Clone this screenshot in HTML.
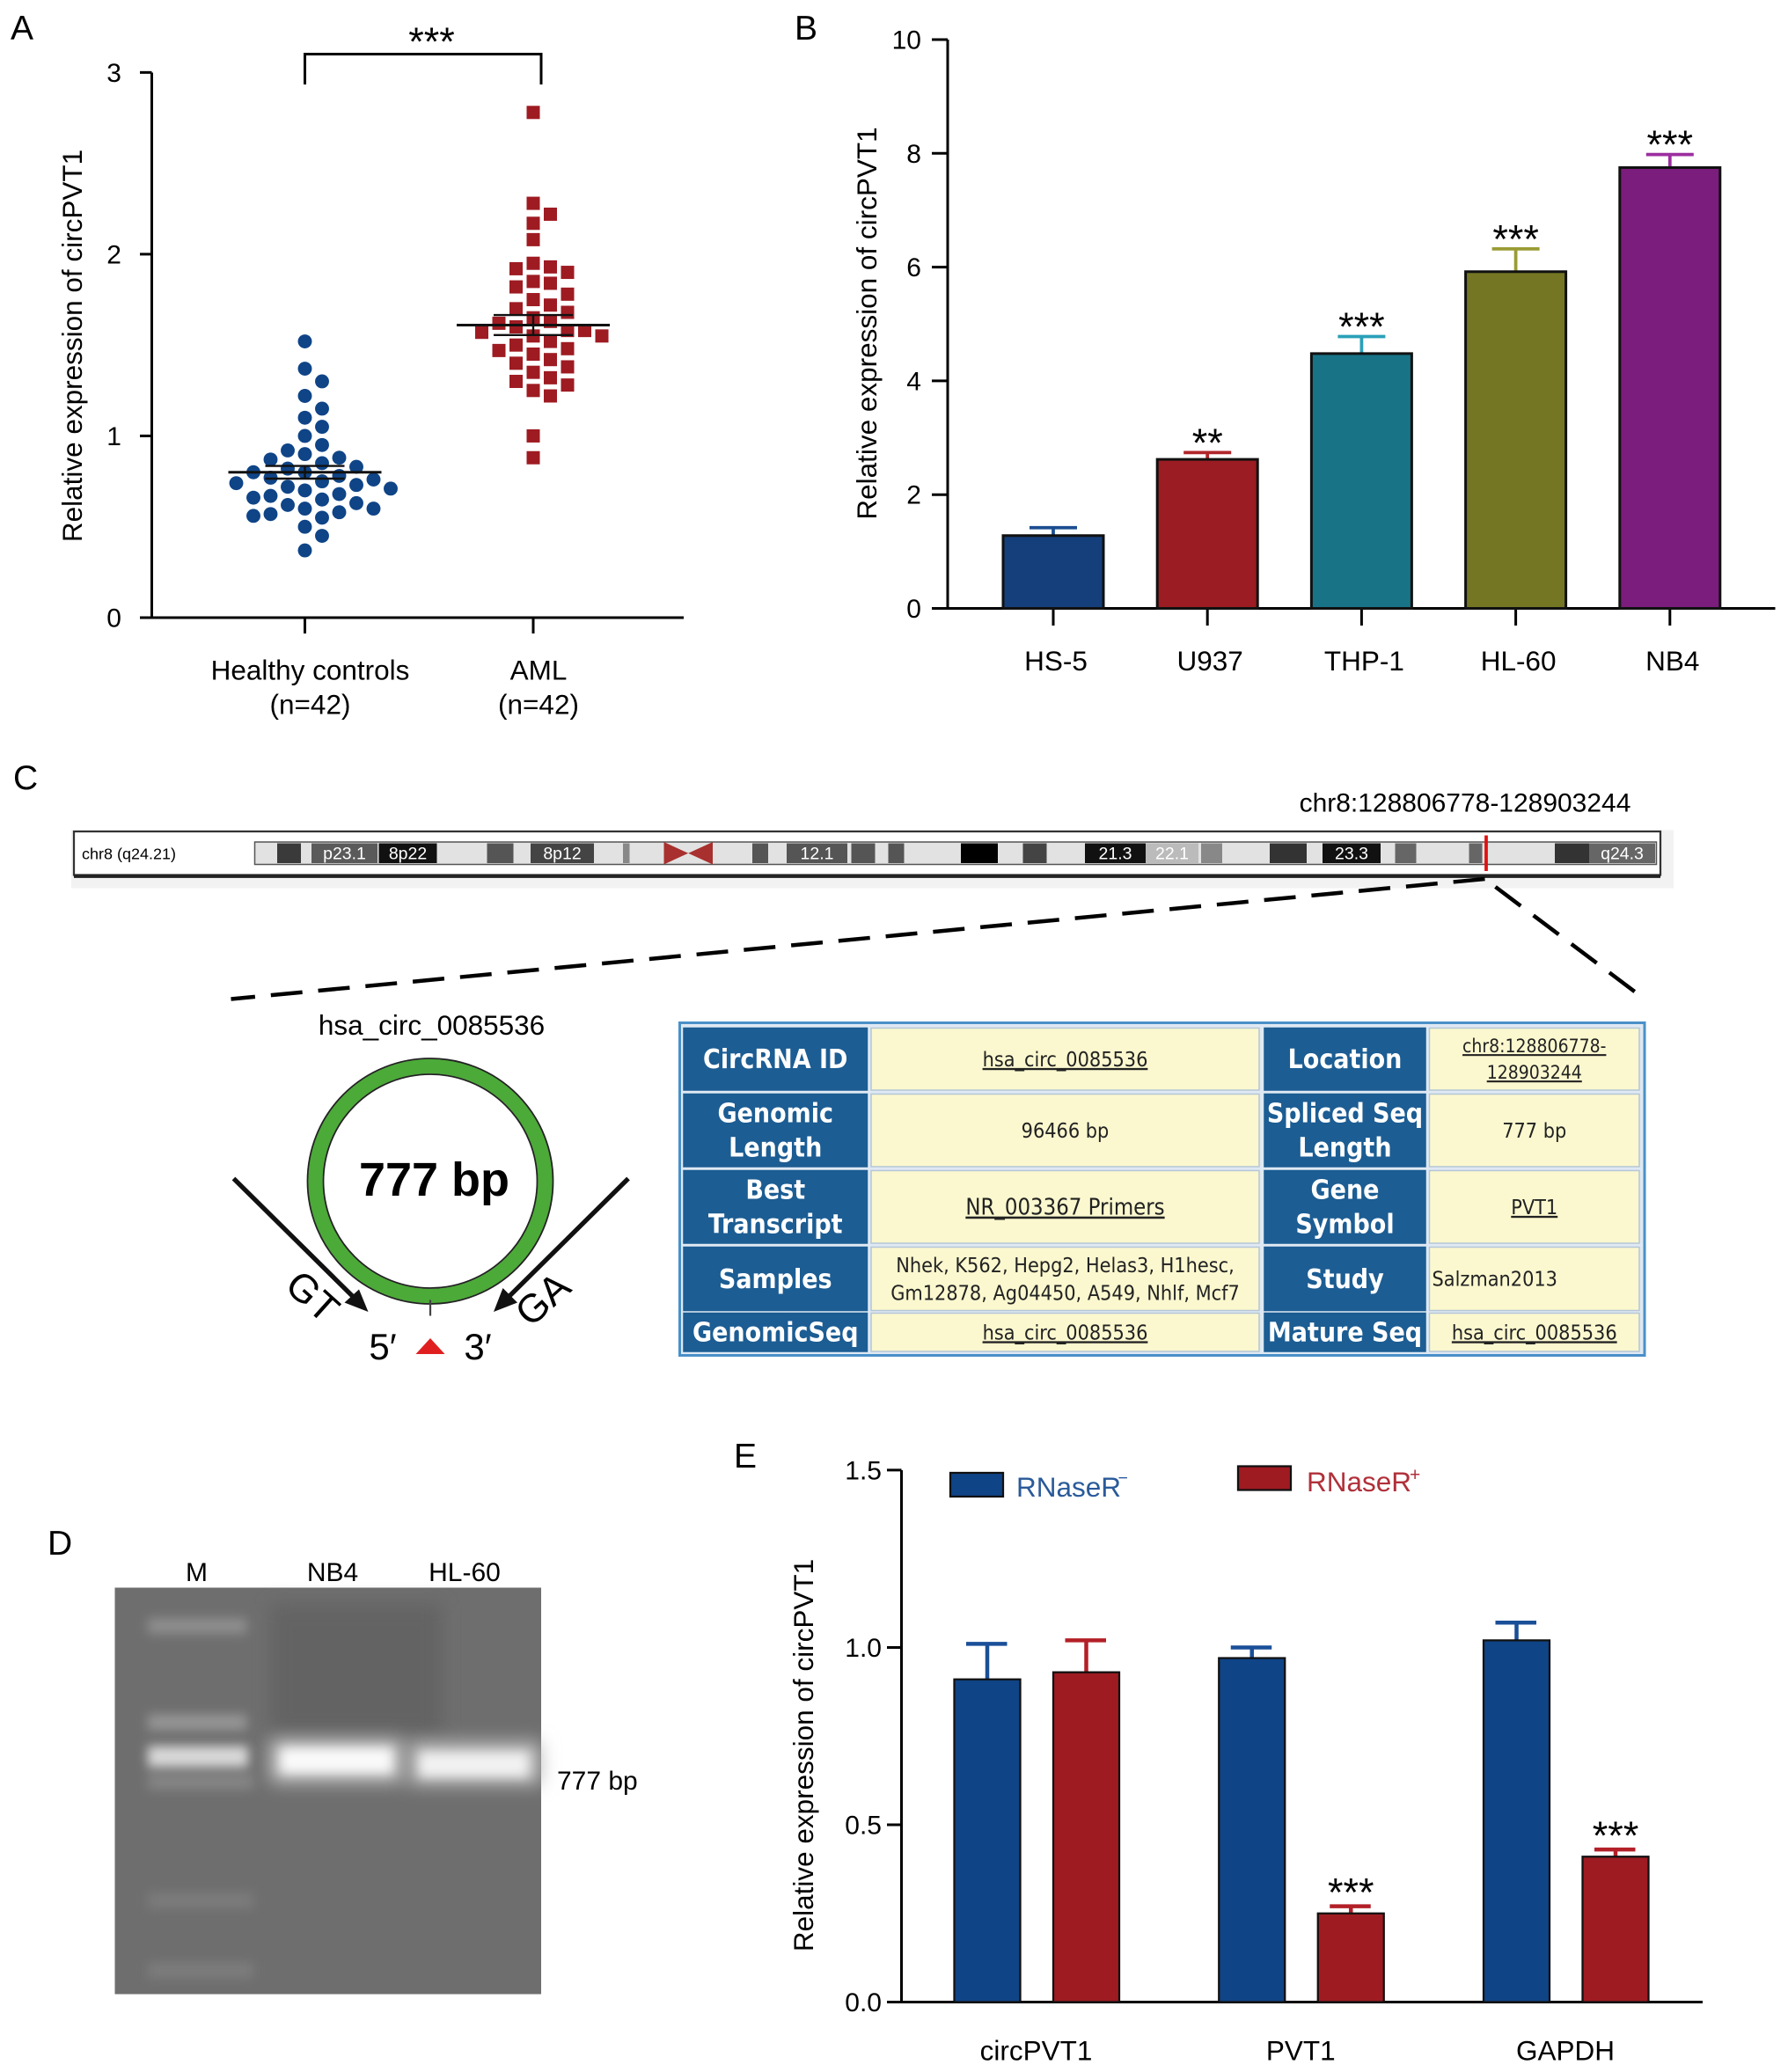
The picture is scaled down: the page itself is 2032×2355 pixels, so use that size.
<!DOCTYPE html>
<html><head><meta charset="utf-8"><style>
html,body{margin:0;padding:0;background:#fff}
svg{display:block}
text{font-family:"Liberation Sans",Arial,sans-serif}
.tb{font-family:"DejaVu Sans Condensed","DejaVu Sans","Liberation Sans",sans-serif}
</style></head><body>
<svg id="fig" xmlns="http://www.w3.org/2000/svg" width="2032" height="2355" viewBox="0 0 1354.67 1570">
<rect width="1354.67" height="1570" fill="#fff"/>
<g id="pA"></g>
<g id="pB"></g>
<g id="pC"></g>
<g id="pD"></g>
<g id="pE"></g>
</svg>
<script>
// ---------- Panel A data ----------
const aGroups = ["Healthy controls", "AML"];
const aHealthy = [1.52,1.37,1.30,1.22,1.15,1.10,1.05,1.0,0.95,0.92,0.90,0.88,0.87,0.85,0.83,0.82,0.80,0.80,0.78,0.77,0.76,0.75,0.74,0.73,0.72,0.71,0.70,0.68,0.67,0.66,0.65,0.63,0.62,0.60,0.60,0.58,0.57,0.56,0.55,0.50,0.45,0.37];
const aAML = [2.78,2.28,2.22,2.17,2.08,1.95,1.93,1.92,1.90,1.85,1.84,1.82,1.78,1.75,1.72,1.70,1.68,1.65,1.63,1.62,1.60,1.58,1.57,1.55,1.55,1.52,1.50,1.48,1.47,1.45,1.42,1.40,1.38,1.35,1.32,1.30,1.28,1.25,1.22,1.00,0.88,1.58];
const aMeans = [0.80, 1.61];
const aSem = [0.035, 0.055];
const aTicks = [0,1,2,3];
// ---------- Panel B data ----------
const bCats = ["HS-5","U937","THP-1","HL-60","NB4"];
const bVals = [1.28,2.62,4.48,5.92,7.75];
const bErr = [0.14,0.12,0.30,0.40,0.23];
const bSig = ["","**","***","***","***"];
const bTicks = [0,2,4,6,8,10];
// ---------- Panel E data ----------
const eCats = ["circPVT1","PVT1","GAPDH"];
const eMinus = [0.91,0.97,1.02];
const eMinusErr = [0.10,0.03,0.05];
const ePlus = [0.93,0.25,0.41];
const ePlusErr = [0.09,0.02,0.02];
const eSig = ["","***","***"];
const eTicks = [0.0,0.5,1.0,1.5];

const NS="http://www.w3.org/2000/svg";
function mk(parent, tag, attrs, txt){
  const e=document.createElementNS(NS,tag);
  for(const k in attrs) e.setAttribute(k,attrs[k]);
  if(txt!==undefined) e.textContent=txt;
  parent.appendChild(e); return e;
}
const blue="#0f4487", red="#9e1b22";

// ===== Panel A =====
(function(){
  const g=document.getElementById('pA');
  const y=v=>468-v*137.7;
  const gx=[231,404];
  let t=mk(g,'text',{x:8,y:30,'font-size':26},'A');
  
  
  let ax=mk(g,'path',{d:'M115 55 V468 H518',stroke:'#000','stroke-width':2,fill:'none'});
  
  
  aTicks.forEach(v=>{
    mk(g,'line',{x1:106,x2:115,y1:y(v),y2:y(v),stroke:'#000','stroke-width':2});
    const tl=mk(g,'text',{x:92,y:y(v)+7,'font-size':20,'text-anchor':'end'},String(v));
    
    
  });
  gx.forEach((x,i)=>{
    mk(g,'line',{x1:x,x2:x,y1:468,y2:480,stroke:'#000','stroke-width':2});
    const l1=mk(g,'text',{x:x+4,y:515,'font-size':21,'text-anchor':'middle'},aGroups[i]);
    
    
    mk(g,'text',{x:x+4,y:541,'font-size':21,'text-anchor':'middle'},'(n=42)');
  });
  const yt=mk(g,'text',{x:62,y:262,'font-size':21,'text-anchor':'middle',transform:'rotate(-90 62 262)'},'Relative expression of circPVT1');
  
  
  mk(g,'path',{d:'M231 64 V41 H410 V64',stroke:'#000','stroke-width':2,fill:'none'});
  const st=mk(g,'text',{x:327,y:42,'font-size':30,'text-anchor':'middle'},'***');
  
  
  function swarm(vals,cx,step,dia){
    const placed=[];const idx=vals.map((v,i)=>i).sort((a,b)=>vals[b]-vals[a]);
    const out=[];
    idx.forEach(i=>{
      const py=y(vals[i]);
      for(let k=0;k<20;k++){
        const off=(k%2?1:-1)*Math.ceil(k/2)*step;
        const px=cx+off;
        if(!placed.some(p=>Math.hypot(p[0]-px,p[1]-py)<dia)){placed.push([px,py]);out.push([px,py]);break;}
      }
    });
    return out;
  }
  swarm(aHealthy,231,13,13).forEach(p=>{
    const c=mk(g,'circle',{cx:p[0],cy:p[1],r:5.3,fill:blue});
    
    
  });
  swarm(aAML,404,13,12).forEach(p=>{
    const r=mk(g,'rect',{x:p[0]-5,y:p[1]-5,width:10,height:10,fill:red});
    
    
  });
  gx.forEach((x,i)=>{
    mk(g,'line',{x1:x-58,x2:x+58,y1:y(aMeans[i]),y2:y(aMeans[i]),stroke:'#111','stroke-width':2});
    mk(g,'path',{d:`M${x-30} ${y(aMeans[i]+aSem[i])} H${x+30} M${x-30} ${y(aMeans[i]-aSem[i])} H${x+30} M${x} ${y(aMeans[i]+aSem[i])} V${y(aMeans[i]-aSem[i])}`,stroke:'#111','stroke-width':1.6,fill:'none'});
  });
})();

// ===== Panel B =====
(function(){
  const g=document.getElementById('pB');
  const y=v=>461-v*43.1;
  const cx=i=>798+i*116.8;
  const cols=["#153f7a","#9b1c22","#197387","#747624","#7a1d7c"];
  const ecols=["#1c4d90","#b0262b","#2aa0b8","#9a9c35","#9c2ea0"];
  let t=mk(g,'text',{x:602,y:30,'font-size':26},'B');
  
  
  mk(g,'path',{d:'M718 30 V461 H1345',stroke:'#000','stroke-width':2,fill:'none'});
  bTicks.forEach(v=>{
    mk(g,'line',{x1:706,x2:718,y1:y(v),y2:y(v),stroke:'#000','stroke-width':2});
    const tl=mk(g,'text',{x:698,y:y(v)+7,'font-size':20,'text-anchor':'end'},String(v));
    
    
  });
  const yt=mk(g,'text',{x:664,y:245,'font-size':21,'text-anchor':'middle',transform:'rotate(-90 664 245)'},'Relative expression of circPVT1');
  
  
  bCats.forEach((c,i)=>{
    const x=cx(i);
    mk(g,'line',{x1:x,x2:x,y1:461,y2:474,stroke:'#000','stroke-width':2});
    const l=mk(g,'text',{x:x+2,y:508,'font-size':21,'text-anchor':'middle'},c);
    
    
    const top=y(bVals[i]+bErr[i]);
    mk(g,'path',{d:`M${x} ${y(bVals[i])} V${top} M${x-18} ${top} H${x+18}`,stroke:ecols[i],'stroke-width':2.5,fill:'none'});
    const b=mk(g,'rect',{x:x-38,y:y(bVals[i]),width:76,height:bVals[i]*43.1,fill:cols[i],stroke:'#111','stroke-width':2});
    
    
    if(bSig[i]){
      const s=mk(g,'text',{x:x,y:top+3,'font-size':30,'text-anchor':'middle'},bSig[i]);
      
      
    }
  });
})();

// ===== Panel C =====
(function(){
  const g=document.getElementById('pC');
  let t=mk(g,'text',{x:10,y:598,'font-size':26},'C');
  
  
  const loc=mk(g,'text',{x:1110,y:615,'font-size':20,'text-anchor':'middle'},'chr8:128806778-128903244');
  
  
  mk(g,'rect',{x:54,y:629,width:1214,height:44,fill:'#f2f2f2'});
  const box=mk(g,'rect',{x:56,y:630,width:1202,height:33,fill:'#fff',stroke:'#333','stroke-width':1.5});
  
  
  mk(g,'line',{x1:56,x2:1258,y1:664,y2:664,stroke:'#222','stroke-width':2.5});
  mk(g,'text',{x:62,y:651,'font-size':12,'font-family':'Liberation Mono'},'chr8 (q24.21)');
  mk(g,'rect',{x:193,y:638,width:1062,height:17,fill:'#e2e2e2',stroke:'#555','stroke-width':1});
  const bands=[[210,18,'#3a3a3a'],[236,50,'#5a5a5a','p23.1'],[287,44,'#111','8p22'],[369,20,'#555'],[402,48,'#444','8p12'],[472,5,'#888'],[570,12,'#555'],[596,46,'#555','12.1'],[645,18,'#555'],[673,12,'#555'],[728,28,'#000'],[775,18,'#444'],[822,46,'#111','21.3'],[868,40,'#bbb','22.1'],[910,16,'#888'],[962,28,'#333'],[1002,44,'#111','23.3'],[1057,16,'#666'],[1113,10,'#666'],[1178,26,'#333'],[1204,50,'#666','q24.3']];
  bands.forEach(b=>{
    mk(g,'rect',{x:b[0],y:639,width:b[1],height:15,fill:b[2]});
    if(b[3]) mk(g,'text',{x:b[0]+b[1]/2,y:651,'font-size':13,'text-anchor':'middle',fill:'#fff','font-family':'Liberation Mono'},b[3]);
  });
  mk(g,'path',{d:'M503 638 L540 655 L540 638 L503 655 Z',fill:'#a8302e'});
  mk(g,'line',{x1:1126,x2:1126,y1:633,y2:660,stroke:'#e01010','stroke-width':2.5});
  mk(g,'line',{x1:1125,y1:666,x2:175,y2:757,stroke:'#000','stroke-width':3,'stroke-dasharray':'24 12'});
  mk(g,'line',{x1:1133,y1:672,x2:1246,y2:757,stroke:'#000','stroke-width':3,'stroke-dasharray':'24 12'});
  const ct=mk(g,'text',{x:327,y:784,'font-size':21,'text-anchor':'middle'},'hsa_circ_0085536');
  
  
  const cc=mk(g,'circle',{cx:326,cy:895,r:87,fill:'none',stroke:'#4caa38','stroke-width':11});
  
  
  mk(g,'circle',{cx:326,cy:895,r:93,fill:'none',stroke:'#222','stroke-width':1.2});
  mk(g,'circle',{cx:326,cy:895,r:81,fill:'none',stroke:'#222','stroke-width':1.2});
  mk(g,'text',{x:329,y:906,'font-size':36,'font-weight':'bold','text-anchor':'middle','font-family':'Liberation Serif'},'777 bp');
  mk(g,'line',{x1:326,x2:326,y1:985,y2:997,stroke:'#444','stroke-width':1.5});
  mk(g,'path',{d:'M177 893 L270 985',stroke:'#111','stroke-width':3.5});
  mk(g,'path',{d:'M279 994 L261 987 L272 977 Z',fill:'#111'});
  mk(g,'path',{d:'M476 893 L383 985',stroke:'#111','stroke-width':3.5});
  mk(g,'path',{d:'M374 994 L381 976 L392 987 Z',fill:'#111'});
  mk(g,'path',{d:'M326 1014 L337 1026 L315 1026 Z',fill:'#e02020'});
  mk(g,'text',{x:290,y:1030,'font-size':28,'text-anchor':'middle'},'5′');
  mk(g,'text',{x:362,y:1030,'font-size':28,'text-anchor':'middle'},'3′');
  mk(g,'text',{x:230,y:990,'font-size':30,'text-anchor':'middle',transform:'rotate(42 230 990)'},'GT');
  mk(g,'text',{x:418,y:992,'font-size':30,'text-anchor':'middle',transform:'rotate(-42 418 992)'},'GA');
  const tb=mk(g,'rect',{x:515,y:775,width:731,height:252,fill:'#dfe9f3',stroke:'#4a90c8','stroke-width':2});
  
  
  const colsX=[[518,139],[660,294],[958,122],[1083,159]];
  const rows=[[779,47],[829,55],[887,55],[945,48],[995,29]];
  const cells=[
    [["CircRNA ID"],["hsa_circ_0085536"],["Location"],["chr8:128806778-","128903244"]],
    [["Genomic","Length"],["96466 bp"],["Spliced Seq","Length"],["777 bp"]],
    [["Best","Transcript"],["NR_003367  Primers"],["Gene","Symbol"],["PVT1"]],
    [["Samples"],["Nhek, K562, Hepg2, Helas3, H1hesc,","Gm12878, Ag04450, A549, Nhlf, Mcf7"],["Study"],["Salzman2013"]],
    [["GenomicSeq"],["hsa_circ_0085536"],["Mature Seq"],["hsa_circ_0085536"]]
  ];
  const links=[[2,3],[2,1],[4,1],[4,3],[0,1],[0,3]];
  rows.forEach((r,ri)=>{
    colsX.forEach((c,ci)=>{
      const hdr=ci%2===0;
      mk(g,'rect',{x:c[0],y:r[0],width:c[1],height:r[1],fill:hdr?'#1c5d93':'#fbf8cf',stroke:hdr?'#1c5d93':'#b5c6d6','stroke-width':1});
      const lines=cells[ri][ci];
      const fs=hdr?20:(ri===2&&ci===1?17:(lines.length>1&&ci==1?15.5:(ci==3&&lines.length>1?14:15.5)));
      const lh=hdr?26:(ci==1?21:20);
      const y0=r[0]+r[1]/2-(lines.length-1)*lh/2+fs*0.35;
      lines.forEach((s,li)=>{
        const isLink=links.some(l=>l[0]===ri&&l[1]===ci);
        const ax=(ri===3&&ci===3)?c[0]+2:c[0]+c[1]/2;
        const te=mk(g,'text',{class:'tb',x:ax,y:y0+li*lh,'font-size':fs,'text-anchor':(ri===3&&ci===3)?'start':'middle',fill:hdr?'#fff':'#222','font-weight':hdr?'bold':'normal','text-decoration':isLink?'underline':'none'},s);
        
        
      });
    });
  });
})();

// ===== Panel D =====
(function(){
  const g=document.getElementById('pD');
  let t=mk(g,'text',{x:36,y:1178,'font-size':26},'D');
  
  
  [['M',149],['NB4',252],['HL-60',352]].forEach(l=>{
    const e=mk(g,'text',{x:l[1],y:1198,'font-size':20,'text-anchor':'middle'},l[0]);
    
    
  });
  const defs=mk(g,'defs',{});
  const f=mk(defs,'filter',{id:'bl',x:'-50%',y:'-100%',width:'200%',height:'300%'});
  mk(f,'feGaussianBlur',{stdDeviation:7});
  const f2=mk(defs,'filter',{id:'bl2',x:'-50%',y:'-100%',width:'200%',height:'300%'});
  mk(f2,'feGaussianBlur',{stdDeviation:4});
  const gel=mk(g,'rect',{x:87,y:1203,width:323,height:308,fill:'#6e6e6e'});
  
  
  mk(g,'rect',{x:205,y:1215,width:130,height:100,fill:'#636363',filter:'url(#bl)'});
  [[1232,75,'#8e8e8e'],[1305,75,'#959595'],[1350,80,'#858585'],[1440,80,'#7b7b7b'],[1493,80,'#7d7d7d']].forEach(b=>{
    mk(g,'rect',{x:112,y:b[0]-6,width:b[1],height:12,fill:b[2],filter:'url(#bl2)'});
  });
  mk(g,'rect',{x:112,y:1323,width:76,height:16,fill:'#d8d8d8',filter:'url(#bl2)'});
  mk(g,'rect',{x:205,y:1318,width:100,height:32,fill:'#c8c8c8',filter:'url(#bl)'});
  mk(g,'rect',{x:213,y:1325,width:84,height:18,fill:'#fafafa',filter:'url(#bl2)'});
  mk(g,'rect',{x:310,y:1320,width:100,height:32,fill:'#c0c0c0',filter:'url(#bl)'});
  mk(g,'rect',{x:318,y:1328,width:82,height:18,fill:'#f2f2f2',filter:'url(#bl2)'});
  const bp=mk(g,'text',{x:422,y:1356,'font-size':20},'777 bp');
  
  
})();

// ===== Panel E =====
(function(){
  const g=document.getElementById('pE');
  const y=v=>1517-v*268.7;
  const gc=i=>785+i*200.5;
  let t=mk(g,'text',{x:556,y:1112,'font-size':26},'E');
  
  
  mk(g,'path',{d:'M683 1114 V1517 H1290',stroke:'#000','stroke-width':2,fill:'none'});
  eTicks.forEach(v=>{
    mk(g,'line',{x1:672,x2:683,y1:y(v),y2:y(v),stroke:'#000','stroke-width':2});
    const tl=mk(g,'text',{x:668,y:y(v)+7,'font-size':20,'text-anchor':'end'},v.toFixed(1));
    
    
  });
  const yt=mk(g,'text',{x:616,y:1330,'font-size':21,'text-anchor':'middle',transform:'rotate(-90 616 1330)'},'Relative expression of circPVT1');
  
  
  function bar(x,v,e,fill,ec,name){
    const top=y(v+e);
    mk(g,'path',{d:`M${x+25} ${y(v)} V${top} M${x+9} ${top} H${x+40}`,stroke:ec,'stroke-width':3,fill:'none'});
    const b=mk(g,'rect',{x:x,y:y(v),width:50,height:v*268.7,fill:fill,stroke:'#111','stroke-width':1.5});
    
    
    return top;
  }
  eCats.forEach((c,i)=>{
    const x=gc(i);
    bar(x-62,eMinus[i],eMinusErr[i],blue,'#1a4f98','bar-rnaser-minus-'+c.toLowerCase());
    const top=bar(x+13,ePlus[i],ePlusErr[i],red,'#b32028','bar-rnaser-plus-'+c.toLowerCase());
    const l=mk(g,'text',{x:x,y:1561,'font-size':21,'text-anchor':'middle'},c);
    
    
    if(eSig[i]){
      const s=mk(g,'text',{x:x+38,y:top,'font-size':30,'text-anchor':'middle'},eSig[i]);
      
      
    }
  });
  const lg1=mk(g,'rect',{x:720,y:1116,width:40,height:18,fill:blue,stroke:'#111','stroke-width':1.5});
  
  
  const lt1=mk(g,'text',{x:770,y:1134,'font-size':21,fill:'#2a5a9a'},'RNaseR');
  
  
  mk(g,'text',{x:847,y:1124,'font-size':13,fill:'#2a5a9a'},'−');
  const lg2=mk(g,'rect',{x:938,y:1111,width:40,height:18,fill:red,stroke:'#111','stroke-width':1.5});
  
  
  const lt2=mk(g,'text',{x:990,y:1130,'font-size':21,fill:'#b0303a'},'RNaseR');
  
  
  mk(g,'text',{x:1068,y:1122,'font-size':14,fill:'#b0303a'},'+');
})();
</script>
</body></html>
